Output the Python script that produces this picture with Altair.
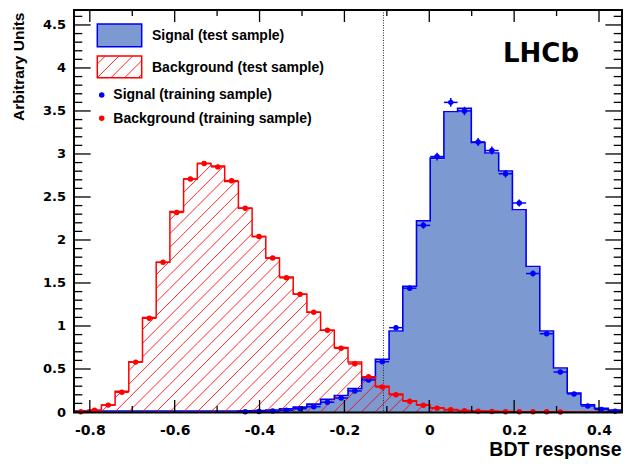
import altair as alt
import pandas as pd

# ---------------- data ----------------
N_BINS = 40
X_MIN, X_MAX = -0.8373, 0.4542
Y_MAX = 4.674

SIG_TEST = [0, 0, 0, 0, 0, 0, 0, 0, 0, 0, 0, 0,
            0.003, 0.006, 0.012, 0.025, 0.045, 0.08, 0.135, 0.18, 0.26, 0.385,
            0.60, 0.93, 1.45, 2.21, 2.94, 3.48, 3.52, 3.12, 3.00, 2.79,
            2.34, 1.68, 0.93, 0.50, 0.21, 0.073, 0.03, 0.01]
BKG_TEST = [0.005, 0.02, 0.08, 0.24, 0.585, 1.10, 1.74, 2.33, 2.71, 2.89,
            2.86, 2.68, 2.37, 2.04, 1.79, 1.57, 1.37, 1.16, 0.95, 0.75,
            0.58, 0.41, 0.30, 0.21, 0.13, 0.083, 0.05, 0.03, 0.018, 0.012,
            0.008, 0.005, 0.004, 0.003, 0.002, 0.001, 0, 0, 0, 0]
SIG_TRAIN = [None] * 12 + [
    0.004, 0.006, 0.012, 0.02, 0.038, 0.062, 0.113, 0.163, 0.245, 0.372,
    0.585, 0.98, 1.44, 2.17, 2.97, 3.60, 3.50, 3.14, 3.04, 2.77,
    2.43, 1.61, 0.91, 0.465, 0.21, 0.07, 0.03, 0.01]
SIG_TRAIN_ERR = [None] * 12 + [
    0.002, 0.003, 0.004, 0.005, 0.006, 0.008, 0.010, 0.012, 0.014, 0.017,
    0.021, 0.026, 0.032, 0.039, 0.045, 0.050, 0.049, 0.046, 0.046, 0.044,
    0.041, 0.034, 0.025, 0.018, 0.012, 0.007, 0.005, 0.003]
BKG_TRAIN = [0.004, 0.02, 0.08, 0.23, 0.58, 1.09, 1.74, 2.32, 2.71, 2.89,
             2.85, 2.69, 2.37, 2.04, 1.79, 1.56, 1.37, 1.16, 0.95, 0.74,
             0.56, 0.41, 0.29, 0.20, 0.126, 0.079, 0.045, 0.025, 0.014, 0.009,
             0.006, 0.004, 0.003, 0.002, 0.002, 0.001, None, None, None, None]
BKG_TRAIN_ERR = [0.001, 0.003, 0.005, 0.008, 0.012, 0.016, 0.02, 0.023, 0.025, 0.026,
                 0.026, 0.025, 0.023, 0.022, 0.02, 0.019, 0.018, 0.016, 0.015, 0.013,
                 0.011, 0.01, 0.008, 0.007, 0.005, 0.004, 0.003, 0.002, 0.002, 0.001,
                 0.001, 0.001, 0.001, 0.001, 0.001, 0.001, None, None, None, None]
CUT_VALUE = [-0.108]

X_LABELS = [-0.8, -0.6, -0.4, -0.2, 0, 0.2, 0.4]
X_MINOR = [-0.7, -0.5, -0.3, -0.1, 0.1, 0.3]
Y_LABELS = [0, 0.5, 1, 1.5, 2, 2.5, 3, 3.5, 4, 4.5]
Y_MINOR = [round(0.1 * i, 1) for i in range(47) if i % 5 != 0]

LEGEND_TEXT = ["Signal (test sample)", "Background (test sample)",
               "Signal (training sample)", "Background (training sample)"]

# ---------------- layout / style ----------------
W, H = 548, 402
SIG_FILL = "#7d99d1"
SIG_LINE = "#0000ee"
SIG_PT = "#0000ff"
BKG = "#ff0000"
FONT = "Liberation Sans"
NUMFONT = "DejaVu Sans"

edges = [X_MIN + (X_MAX - X_MIN) * i / N_BINS for i in range(N_BINS + 1)]
centers = [(edges[i] + edges[i + 1]) / 2 for i in range(N_BINS)]

xs = alt.Scale(domain=[X_MIN, X_MAX], nice=False, zero=False)
ys = alt.Scale(domain=[0, Y_MAX], nice=False, zero=False)

x_axis = alt.Axis(values=X_LABELS, ticks=False, domain=False, grid=False,
                  labelExpr="datum.value == 0 ? '0' : (datum.value < 0 ? '-' + format(-datum.value, '.1f') : format(datum.value, '.1f'))",
                  labelFont=NUMFONT, labelFontWeight="bold", labelFontSize=14,
                  labelColor="black", labelPadding=11, labelFlush=False,
                  title="BDT response", titleFont=FONT, titleFontWeight="bold",
                  titleFontSize=19.5, titleColor="black", titleAlign="right",
                  titleBaseline="alphabetic", titleX=W - 1, titleY=43)
y_axis = alt.Axis(values=Y_LABELS, format="~g", ticks=False, domain=False, grid=False,
                  labelFont=NUMFONT, labelFontWeight="bold", labelFontSize=13,
                  labelColor="black", labelPadding=8.5, labelFlush=False,
                  title="Arbitrary Units", titleFont=FONT, titleFontWeight="bold",
                  titleFontSize=15.5, titleColor="black", titleAngle=270,
                  titleAlign="right", titleBaseline="alphabetic", titleX=-51, titleY=2)


def X(f):
    return alt.X(f, scale=xs, axis=x_axis, title="BDT response")


def Y(f):
    return alt.Y(f, scale=ys, axis=y_axis, title="Arbitrary Units")


def step_df(vals):
    return pd.DataFrame({"x": edges, "y": list(vals) + [vals[-1]]})


def one():
    return pd.DataFrame({"d": [0]})


layers = []

# signal test histogram (filled)
layers.append(alt.Chart(step_df(SIG_TEST)).mark_area(
    interpolate="step-after", color=SIG_FILL, opacity=1).encode(x=X("x:Q"), y=Y("y:Q")))
layers.append(alt.Chart(step_df(SIG_TEST)).mark_line(
    interpolate="step-after", color=SIG_LINE, strokeWidth=1.6, yOffset=-1).encode(
    x=X("x:Q"), y=Y("y:Q")))

# background test histogram: hatch segments clipped to the step shape
px_x = W / (X_MAX - X_MIN)
px_y = H / Y_MAX
K = px_x / px_y
HATCH_DX = 13.7 / px_x
segs = []
x0 = X_MIN - max(BKG_TEST) / K - HATCH_DX + 0.004
while x0 < X_MAX:
    for i in range(N_BINS):
        a, b, h = edges[i], edges[i + 1], BKG_TEST[i]
        lo = max(a, x0)
        hi = min(b, x0 + h / K)
        if hi > lo:
            segs.append({"x1": lo, "y1": K * (lo - x0), "x2": hi, "y2": K * (hi - x0)})
    x0 += HATCH_DX
hatch_df = pd.DataFrame(segs)
layers.append(alt.Chart(hatch_df).mark_rule(color=BKG, strokeWidth=1, opacity=0.85).encode(
    x=X("x1:Q"), y=Y("y1:Q"), x2="x2:Q", y2="y2:Q"))
layers.append(alt.Chart(step_df(BKG_TEST)).mark_line(
    interpolate="step-after", color=BKG, strokeWidth=1.5).encode(x=X("x:Q"), y=Y("y:Q")))

# cut line
layers.append(alt.Chart(pd.DataFrame({"c": CUT_VALUE})).mark_rule(
    color="#222222", strokeWidth=1, strokeDash=[1, 1.5]).encode(
    x=X("c:Q"), y=alt.value(0), y2=alt.value(H)))


# training points with error bars
def pts_df(vals, errs):
    rows = []
    for i, (v, e) in enumerate(zip(vals, errs)):
        if v is None:
            continue
        rows.append({"c": centers[i], "lo": edges[i], "hi": edges[i + 1],
                     "v": v, "vlo": max(v - e, 0), "vhi": v + e})
    return pd.DataFrame(rows)


for vals, errs, col in [(SIG_TRAIN, SIG_TRAIN_ERR, SIG_PT), (BKG_TRAIN, BKG_TRAIN_ERR, BKG)]:
    d = pts_df(vals, errs)
    layers.append(alt.Chart(d).mark_rule(color=col, strokeWidth=1.5).encode(
        x=X("lo:Q"), x2="hi:Q", y=Y("v:Q")))
    layers.append(alt.Chart(d).mark_rule(color=col, strokeWidth=1.5).encode(
        x=X("c:Q"), y=Y("vlo:Q"), y2="vhi:Q"))
    layers.append(alt.Chart(d).mark_circle(color=col, size=30, opacity=1).encode(
        x=X("c:Q"), y=Y("v:Q")))

# frame and inward ticks on all four sides
for vals, ln in [(X_LABELS, 12), (X_MINOR, 6)]:
    d = pd.DataFrame({"t": vals})
    layers.append(alt.Chart(d).mark_rule(color="black", strokeWidth=1.3).encode(
        x=X("t:Q"), y=alt.value(H), y2=alt.value(H - ln)))
    layers.append(alt.Chart(d).mark_rule(color="black", strokeWidth=1.3).encode(
        x=X("t:Q"), y=alt.value(0), y2=alt.value(ln)))
for vals, ln in [(Y_LABELS, 16.7), (Y_MINOR, 8.3)]:
    d = pd.DataFrame({"t": vals})
    layers.append(alt.Chart(d).mark_rule(color="black", strokeWidth=1.3).encode(
        y=Y("t:Q"), x=alt.value(0), x2=alt.value(ln)))
    layers.append(alt.Chart(d).mark_rule(color="black", strokeWidth=1.3).encode(
        y=Y("t:Q"), x=alt.value(W), x2=alt.value(W - ln)))
layers.append(alt.Chart(one()).mark_rect(filled=False, stroke="black", strokeWidth=2).encode(
    x=alt.value(0), x2=alt.value(W), y=alt.value(0), y2=alt.value(H + 0.5)))

# legend (pixel layout)
BX0, BX1 = 23.3, 67.7
layers.append(alt.Chart(one()).mark_rect(fill=SIG_FILL, stroke=SIG_LINE, strokeWidth=1.5).encode(
    x=alt.value(BX0), x2=alt.value(BX1), y=alt.value(14), y2=alt.value(36.7)))
layers.append(alt.Chart(one()).mark_rect(fill="white", stroke=BKG, strokeWidth=1.5).encode(
    x=alt.value(BX0), x2=alt.value(BX1), y=alt.value(46), y2=alt.value(67.7)))
HY0, HY1 = 46, 67.7
c = BX0 + HY0 + 8
while c < BX1 + HY1:
    xa = max(BX0, c - HY1)
    xb = min(BX1, c - HY0)
    if xb > xa:
        layers.append(alt.Chart(one()).mark_rule(color=BKG, strokeWidth=1, opacity=0.85).encode(
            x=alt.value(xa), y=alt.value(c - xa), x2=alt.value(xb), y2=alt.value(c - xb)))
    c += 13.7
layers.append(alt.Chart(one()).mark_circle(color=SIG_PT, size=30, opacity=1).encode(
    x=alt.value(27.7), y=alt.value(85)))
layers.append(alt.Chart(one()).mark_circle(color=BKG, size=30, opacity=1).encode(
    x=alt.value(27.7), y=alt.value(108.3)))
for txt, tx, ty in [(LEGEND_TEXT[0], 78, 30), (LEGEND_TEXT[1], 78, 61.7),
                    (LEGEND_TEXT[2], 39.3, 89.3), (LEGEND_TEXT[3], 39.3, 113.3)]:
    layers.append(alt.Chart(one()).mark_text(
        text=txt, font=FONT, fontWeight="bold", fontSize=14, color="black",
        align="left", baseline="alphabetic").encode(x=alt.value(tx), y=alt.value(ty)))
layers.append(alt.Chart(one()).mark_text(
    text="LHCb", font=NUMFONT, fontWeight="bold", fontSize=26, color="black",
    align="left", baseline="alphabetic").encode(x=alt.value(429), y=alt.value(51.7)))

chart = alt.layer(*layers).properties(
    width=W, height=H,
    padding={"left": 66, "top": 2, "right": 1, "bottom": 47},
    autosize=alt.AutoSizeParams(type="none"),
).configure_view(stroke=None)

chart.save("out.html", embed_options={"renderer": "svg", "actions": False})
